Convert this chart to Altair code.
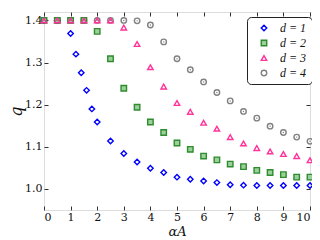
import altair as alt
import pandas as pd

x_common = [0, 0.5, 1, 1.5, 2, 2.5, 3, 3.5, 4, 4.5, 5, 5.5, 6, 6.5, 7, 7.5, 8, 8.5, 9, 9.5, 10]
x_d1 = [0, 0.5, 1.0, 1.2, 1.4, 1.6, 1.8, 2.0, 2.5, 3, 3.5, 4, 4.5, 5, 5.5, 6, 6.5, 7, 7.5, 8, 8.5, 9, 9.5, 10]
q_d1 = [1.4, 1.4, 1.369, 1.320, 1.276, 1.234, 1.190, 1.159, 1.114, 1.084, 1.064, 1.049, 1.039, 1.028,
        1.023, 1.019, 1.015, 1.010, 1.009, 1.008, 1.008, 1.008, 1.008, 1.008]
q_d2 = [1.4, 1.4, 1.4, 1.4, 1.374, 1.309, 1.239, 1.194, 1.159, 1.134, 1.109, 1.094, 1.078, 1.069,
        1.059, 1.053, 1.044, 1.039, 1.034, 1.028, 1.028]
q_d3 = [1.4, 1.4, 1.4, 1.4, 1.4, 1.4, 1.383, 1.344, 1.289, 1.243, 1.204, 1.183, 1.157, 1.143,
        1.123, 1.108, 1.097, 1.089, 1.083, 1.078, 1.068]
q_d4 = [1.4, 1.4, 1.4, 1.4, 1.4, 1.4, 1.4, 1.399, 1.389, 1.349, 1.309, 1.283, 1.254, 1.229,
        1.209, 1.184, 1.168, 1.149, 1.134, 1.123, 1.113]
labels = ["d = 1", "d = 2", "d = 3", "d = 4"]

rows = []
for xs, qs, lab in [(x_d1, q_d1, labels[0]), (x_common, q_d2, labels[1]),
                    (x_common, q_d3, labels[2]), (x_common, q_d4, labels[3])]:
    for a, b in zip(xs, qs):
        rows.append({"alpha": a, "q": b, "series": lab})
df = pd.DataFrame(rows)
order_map = {labels[3]: 0, labels[0]: 1, labels[1]: 2, labels[2]: 3}
df["ord"] = df["series"].map(order_map)

FONT = "DejaVu Serif"
LFONT = "Liberation Serif"
xscale = alt.Scale(domain=[0, 10], nice=False, zero=False)
yscale = alt.Scale(domain=[0.95, 1.42], nice=False, zero=False)

base = alt.Chart(df)

points = base.mark_point(filled=False, strokeWidth=1.4, opacity=1).encode(
    x=alt.X("alpha:Q", scale=xscale,
            axis=alt.Axis(orient="bottom", values=list(range(0, 11)), format="d",
                          domain=False, offset=-4, tickSize=4, tickColor="#333",
                          labelPadding=1, labelFont=FONT, labelFontSize=11, labelColor="#111",
                          grid=False, title="αA", titleFont=FONT, titleFontSize=13,
                          titleFontStyle="italic", titleFontWeight="normal", titlePadding=3,
                          titleColor="#111")),
    y=alt.Y("q:Q", scale=yscale,
            axis=alt.Axis(orient="left", values=[1.0, 1.1, 1.2, 1.3, 1.4], format=".1f",
                          domain=False, offset=-4, tickSize=4, tickColor="#333",
                          labelPadding=2, labelFont=FONT, labelFontSize=11, labelColor="#111",
                          grid=False, title="q", titleFont=FONT, titleFontSize=16,
                          titleFontStyle="italic", titleFontWeight="normal", titlePadding=0,
                          titleColor="#111")),
    color=alt.Color("series:N", sort=labels,
                    scale=alt.Scale(domain=labels, range=["#0000ff", "#2e8b2e", "#ff3399", "#808080"]),
                    legend=alt.Legend(title=None, orient="none", legendX=203, legendY=5,
                                      labelFont=LFONT, labelFontSize=12, labelFontStyle="italic",
                                      labelColor="#111", strokeColor="#222", cornerRadius=4,
                                      padding=5, rowPadding=3, symbolSize=30, labelOffset=10,
                                      symbolOffset=6, symbolStrokeWidth=1.4, fillColor="white")),
    fill=alt.Fill("series:N", sort=labels,
                  scale=alt.Scale(domain=labels, range=["transparent", "#9ad19a", "transparent", "transparent"]),
                  legend=None),
    shape=alt.Shape("series:N", sort=labels,
                    scale=alt.Scale(domain=labels, range=["diamond", "square", "triangle-up", "circle"]),
                    legend=None),
    size=alt.value(30),
    order=alt.Order("ord:Q"),
)

dots = base.transform_filter(alt.datum.series == labels[3]).mark_point(
    filled=True, color="#808080", size=2, opacity=1).encode(
    x=alt.X("alpha:Q", scale=xscale,
            axis=alt.Axis(orient="top", values=list(range(0, 11)), domain=False, offset=-4,
                          tickSize=4, tickColor="#333", labels=False, grid=False, title=None)),
    y=alt.Y("q:Q", scale=yscale,
            axis=alt.Axis(orient="right", values=[1.0, 1.1, 1.2, 1.3, 1.4], domain=False, offset=-4,
                          tickSize=4, tickColor="#333", labels=False, grid=False, title=None)),
)

chart = alt.layer(points, dots).resolve_axis(x="independent", y="independent").properties(
    width=266, height=198,
    autosize=alt.AutoSizeParams(type="none"),
    padding={"left": 36, "top": 4, "right": 2, "bottom": 30},
).configure_view(stroke="#333", strokeWidth=1.2).configure(background="white")

chart.save("out.html", embed_options={"renderer": "svg", "actions": False})
